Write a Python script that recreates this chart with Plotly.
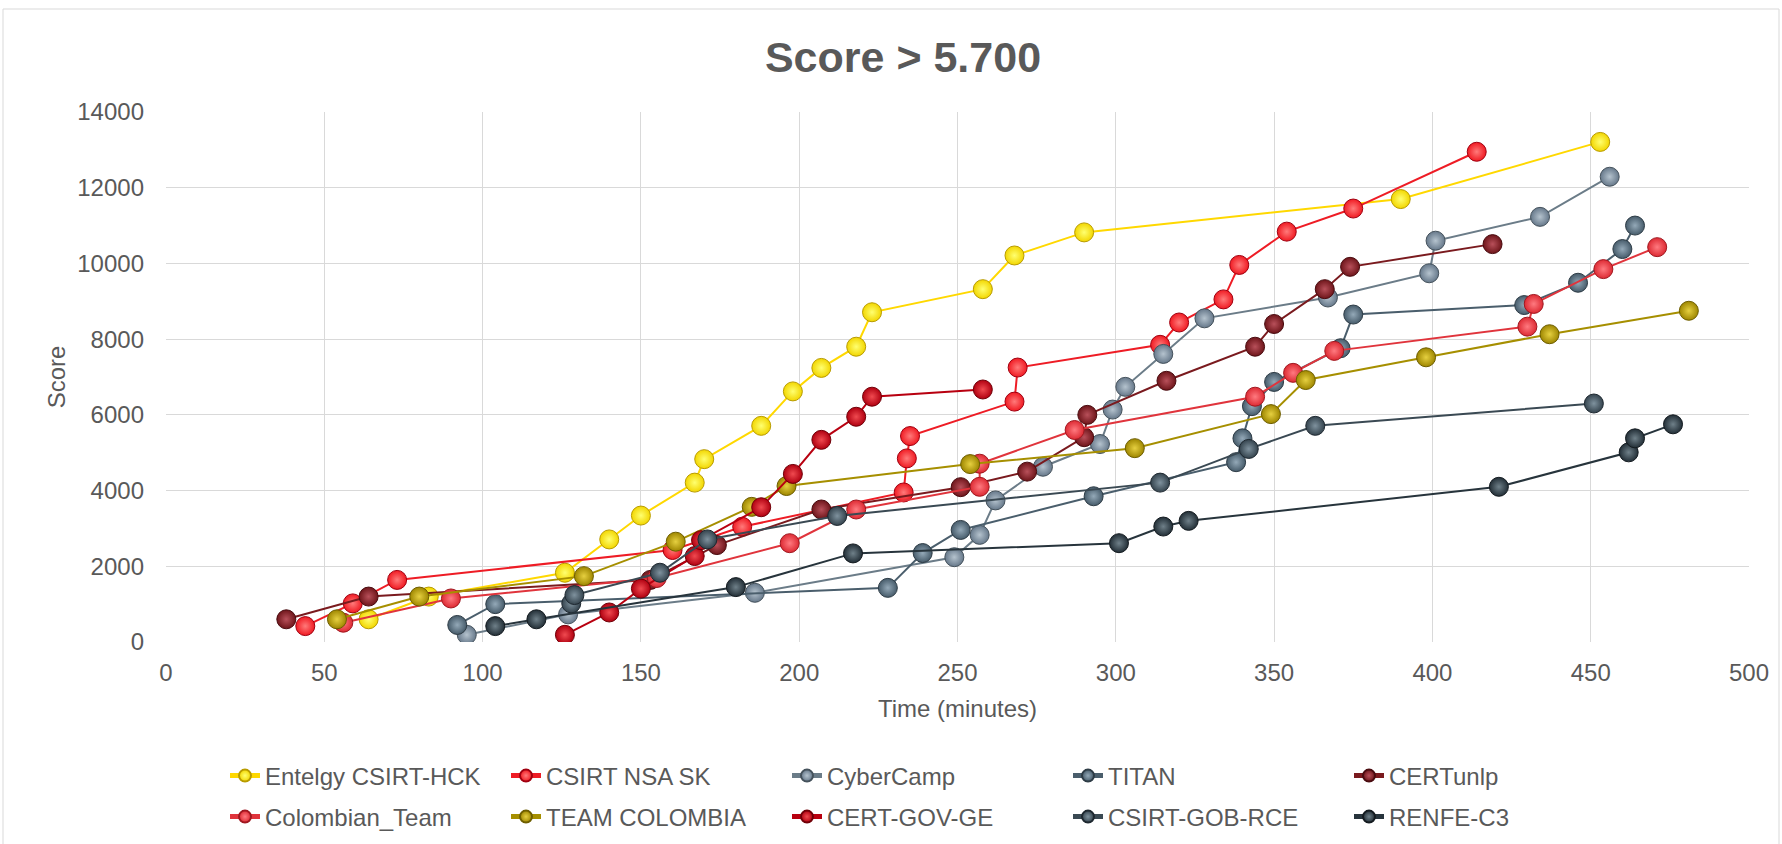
import plotly.graph_objects as go

# ---- data (time in minutes, score) ----
names = ["Entelgy CSIRT-HCK", "CSIRT NSA SK", "CyberCamp", "TITAN", "CERTunlp",
         "Colombian_Team", "TEAM COLOMBIA", "CERT-GOV-GE", "CSIRT-GOB-RCE", "RENFE-C3"]

entelgy_t = [64, 83, 126, 140, 150, 167, 170, 188, 198, 207, 218, 223, 258, 268, 290, 390, 453]
entelgy_s = [600, 1200, 1830, 2710, 3340, 4210, 4830, 5710, 6620, 7240, 7800, 8710, 9320, 10210, 10820, 11700, 13210]

nsask_t = [44, 59, 73, 160, 182, 233, 234, 235, 268, 269, 314, 320, 334, 339, 354, 375, 414]
nsask_s = [420, 1020, 1640, 2430, 3045, 3950, 4850, 5440, 6350, 7250, 7850, 8440, 9050, 9960, 10840, 11450, 12950]

cybercamp_t = [95, 127, 186, 249, 257, 262, 277, 295, 299, 303, 315, 328, 367, 399, 401, 434, 456]
cybercamp_s = [190, 730, 1300, 2240, 2830, 3740, 4630, 5230, 6140, 6740, 7610, 8550, 9100, 9740, 10600, 11230, 12290]

titan_t = [92, 104, 228, 239, 251, 293, 338, 340, 343, 350, 371, 375, 429, 446, 460, 464]
titan_s = [450, 1000, 1430, 2350, 2960, 3850, 4750, 5380, 6230, 6870, 7760, 8650, 8900, 9490, 10380, 11000]

certunlp_t = [38, 64, 153, 174, 207, 251, 272, 290, 291, 316, 344, 350, 366, 374, 419]
certunlp_s = [600, 1200, 1640, 2560, 3500, 4090, 4500, 5410, 6000, 6900, 7800, 8400, 9320, 9910, 10510]

colteam_t = [56, 90, 155, 197, 218, 257, 257, 287, 344, 356, 369, 430, 432, 454, 471]
colteam_s = [510, 1150, 1690, 2610, 3500, 4100, 4710, 5600, 6480, 7110, 7690, 8330, 8930, 9850, 10430]

teamcol_t = [54, 80, 132, 161, 185, 196, 254, 306, 349, 360, 398, 437, 481]
teamcol_s = [600, 1200, 1740, 2650, 3570, 4120, 4700, 5120, 6020, 6920, 7520, 8130, 8750]

certgov_t = [126, 140, 150, 167, 169, 188, 198, 207, 218, 223, 258]
certgov_s = [190, 780, 1410, 2270, 2690, 3560, 4440, 5340, 5950, 6480, 6670]

gob_t = [128, 129, 156, 171, 212, 314, 342, 363, 451]
gob_s = [1020, 1240, 1830, 2710, 3330, 4210, 5100, 5710, 6300]

renfe_t = [104, 117, 180, 217, 301, 315, 323, 421, 462, 464, 476]
renfe_s = [420, 600, 1450, 2340, 2610, 3050, 3200, 4100, 5010, 5380, 5750]

x_ticks = [0, 50, 100, 150, 200, 250, 300, 350, 400, 450, 500]
y_ticks = [0, 2000, 4000, 6000, 8000, 10000, 12000, 14000]
y_tick_text = ["0", "2000", "4000", "6000", "8000", "10000", "12000", "14000"]

series_t = [entelgy_t, nsask_t, cybercamp_t, titan_t, certunlp_t,
            colteam_t, teamcol_t, certgov_t, gob_t, renfe_t]
series_s = [entelgy_s, nsask_s, cybercamp_s, titan_s, certunlp_s,
            colteam_s, teamcol_s, certgov_s, gob_s, renfe_s]

# ---- styles ----
line_colors = ["#FFD800", "#EE1C25", "#6B7C88", "#4A5E6C", "#7A1A1E",
               "#E0343C", "#A68F00", "#B80010", "#3A4953", "#27343C"]
marker_colors = ["#F2D600", "#F01A22", "#66788A", "#465B6A", "#6E151A",
                 "#DD2A33", "#9E8600", "#B00010", "#34434D", "#222E36"]
highlight = ["#FFFF70", "#FF7A7A", "#B5C3CE", "#94A9B8", "#B8505A",
             "#FF7A80", "#E6D040", "#F04A50", "#7F929E", "#6F8089"]
edge = ["#B89B00", "#A00010", "#45525C", "#2E3C46", "#4A0C10",
        "#A01820", "#6E5E00", "#700008", "#1E2830", "#141B20"]

fig = go.Figure()
for i, nm in enumerate(names):
    fig.add_trace(go.Scatter(
        x=series_t[i], y=series_s[i], name=nm, mode="lines+markers",
        line=dict(color=line_colors[i], width=2),
        marker=dict(size=19, color=marker_colors[i],
                    gradient=dict(type="radial", color=highlight[i]),
                    line=dict(color=edge[i], width=1)),
        legend="legend" if i < 5 else "legend2",
    ))

font_fam = "Liberation Sans, Arial, sans-serif"
txt = "#595959"
W, H = 1782, 844
L, R, T, B = 166, 33, 112, 202
pw, ph = W - L - R, H - T - B

def px_x(px):
    return (px - L) / pw

def px_y(py):
    return (H - B - py) / ph

legend_common = dict(orientation="h", xanchor="left", yanchor="middle",
                     xref="container", yref="container",
                     entrywidth=236, entrywidthmode="pixels",
                     font=dict(family=font_fam, size=24, color=txt),
                     bgcolor="rgba(0,0,0,0)", itemsizing="constant")

fig.update_layout(
    width=W, height=H,
    margin=dict(l=L, r=R, t=T, b=B),
    paper_bgcolor="white", plot_bgcolor="white",
    font=dict(family=font_fam, size=24, color=txt),
    title=dict(text="<b>Score > 5.700</b>", x=903 / W, xref="container",
               xanchor="center", y=1 - 57 / H, yref="container", yanchor="middle",
               font=dict(family=font_fam, size=43, color=txt)),
    xaxis=dict(range=[0, 500], tickvals=x_ticks, showgrid=True, gridcolor="#D9D9D9",
               gridwidth=1.3, zeroline=False, showline=False, ticks="",
               ticklabelstandoff=14, automargin=False,
               tickfont=dict(family=font_fam, size=24, color=txt),
               title=dict(text="Time (minutes)", standoff=15,
                          font=dict(family=font_fam, size=24, color=txt))),
    yaxis=dict(range=[0, 14000], tickvals=y_ticks, ticktext=y_tick_text,
               showgrid=True, gridcolor="#D9D9D9",
               gridwidth=1.3, zeroline=False, showline=False, ticks="",
               ticklabelstandoff=21, automargin=False,
               tickfont=dict(family=font_fam, size=24, color=txt),
               title=dict(text="Score", standoff=4,
                          font=dict(family=font_fam, size=24, color=txt))),
    legend=dict(x=225 / W, y=1 - 776 / H, **legend_common),
    legend2=dict(x=225 / W, y=1 - 817 / H, **legend_common),
    showlegend=True,
    shapes=[dict(type="rect", xref="paper", yref="paper",
                 x0=px_x(3), x1=px_x(1779), y0=px_y(860), y1=px_y(9),
                 line=dict(color="#D9D9D9", width=1), fillcolor="rgba(0,0,0,0)",
                 layer="below")],
)

fig.write_html("out.html", config={"displayModeBar": False},
               post_script="document.body.style.margin='0';")
